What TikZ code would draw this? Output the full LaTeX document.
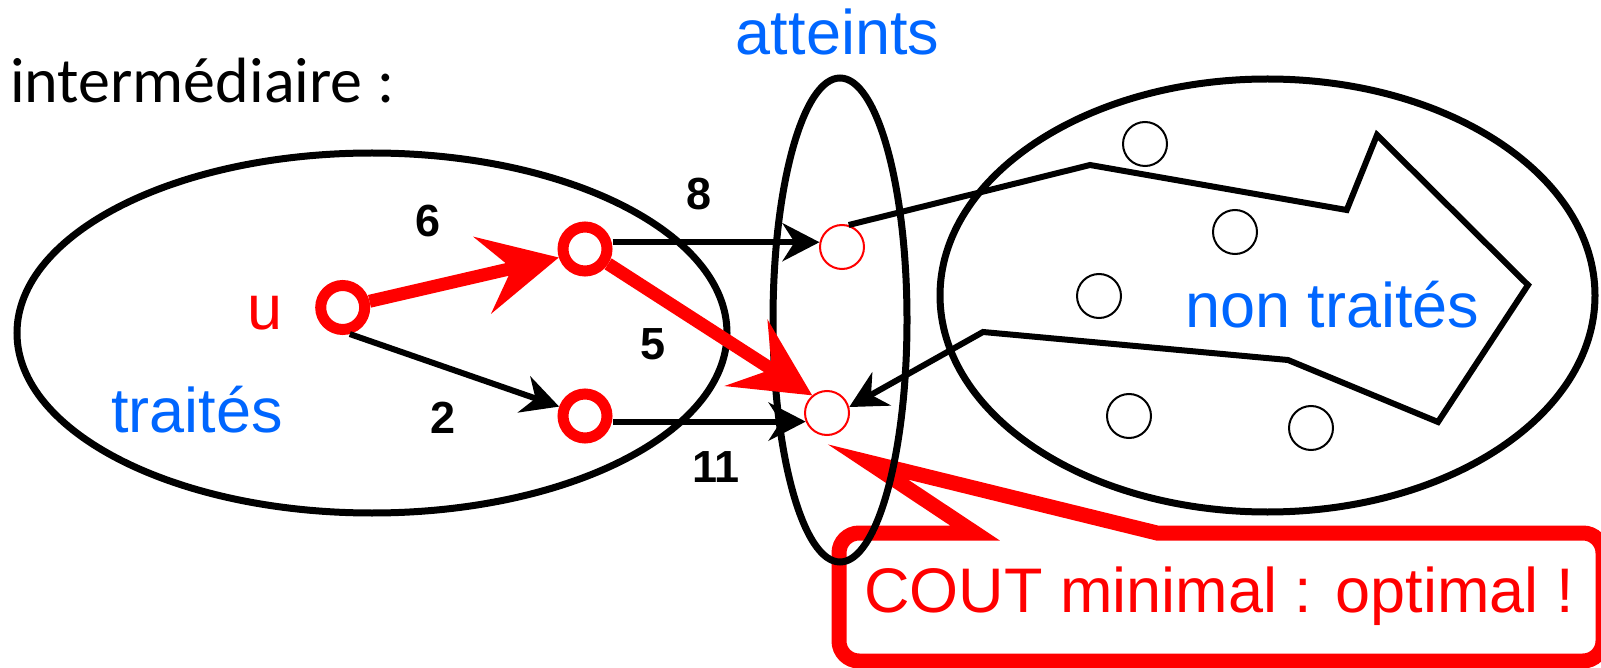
\documentclass[tikz,border=0pt]{standalone}
\usepackage{fontspec}
\setmainfont{Liberation Sans}
\newfontfamily\calib{Carlito}
\usetikzlibrary{arrows.meta}
\definecolor{myblue}{RGB}{0,102,255}
\begin{document}
\begin{tikzpicture}[x=1pt,y=-1pt,
  setline/.style={draw=black, line width=7pt},
  bignum/.style={font=\fontsize{45}{48}\selectfont\bfseries, inner sep=0pt},
  bluetxt/.style={text=myblue, font=\fontsize{63}{70}\selectfont, inner sep=0pt},
  redtxt/.style={text=red, font=\fontsize{63}{70}\selectfont, inner sep=0pt},
  thicknode/.style={circle, draw=red, line width=11pt, minimum size=44pt, inner sep=0pt, fill=white},
  thinnode/.style={circle, draw=red, line width=2pt, minimum size=44pt, inner sep=0pt, fill=white},
  smallnode/.style={circle, draw=black, line width=2pt, minimum size=44pt, inner sep=0pt},
  redarr/.style={draw=red, line width=13pt, -{Stealth[length=78pt, width=78pt, inset=30pt]}},
  blkarr/.style={draw=black, line width=6pt, line join=miter, -{Stealth[length=37pt, width=38pt, inset=12pt]}},
  callout/.style={draw=red, line width=15pt, line join=miter}
]
\useasboundingbox (0,0) rectangle (1601,668);

% callout box
\draw[callout] (868,462) -- (1157,533) {[rounded corners=20pt] -- (1603,533) -- (1603,661) -- (839,661) -- (839,533)} -- (975,533) -- cycle;
\node[redtxt, anchor=base west] (cout) at (864,612) {COUT minimal : optimal !};

% sets
\draw[setline] (372,333) ellipse [x radius=355, y radius=180];
\draw[setline] (840,320) ellipse [x radius=67, y radius=242];
\draw[setline] (1267.5,295.5) ellipse [x radius=327.5, y radius=216.5];

% texts
\node[font=\calib\fontsize{64}{70}\selectfont, inner sep=0pt, anchor=base west] (inter) at (10,103) {intermédiaire :};
\node[bluetxt, anchor=base] (att) at (837.5,55) {atteints};
\node[bluetxt, anchor=base west] (trt) at (111,432) {traités};
\node[bluetxt, anchor=base west] (ntr) at (1185,327) {non traités};
\node[redtxt, anchor=base west] (ulbl) at (247,330) {u};

% nodes
\node[thicknode] (u) at (342.7,307.5) {};
\node[thicknode] (A) at (585,249) {};
\node[thicknode] (B) at (585,416) {};
\node[thinnode] (C) at (842,247) {};
\node[thinnode] (D) at (827,413) {};
\node[smallnode] (n1) at (1145,144) {};
\node[smallnode] (n2) at (1235,232) {};
\node[smallnode] (n3) at (1099,296) {};
\node[smallnode] (n4) at (1129,416) {};
\node[smallnode] (n5) at (1311,428) {};

% edges
\draw[blkarr] (u.-75) -- (B.160);
\draw[blkarr] (A.east |- C.168) -- (C.168);
\draw[blkarr] (B.east |- D.202) -- (D.202);
\draw[redarr] (u) -- (A.198);
\draw[redarr] (A) -- (D.130);
\draw[blkarr] (C.73) -- (1090,165) -- (1346.7,210) -- (1377,135) -- (1528,285) -- (1438,422) -- (1288,360) -- (983,332) -- (D.15);

% weights
\node[bignum] (w6) at (428,221) {6};
\node[bignum] (w2) at (443,418) {2};
\node[bignum] (w8) at (699,194) {8};
\node[bignum] (w5) at (653,344) {5};
\node[bignum] (w11) at (716,467) {11};
\end{tikzpicture}
\end{document}
